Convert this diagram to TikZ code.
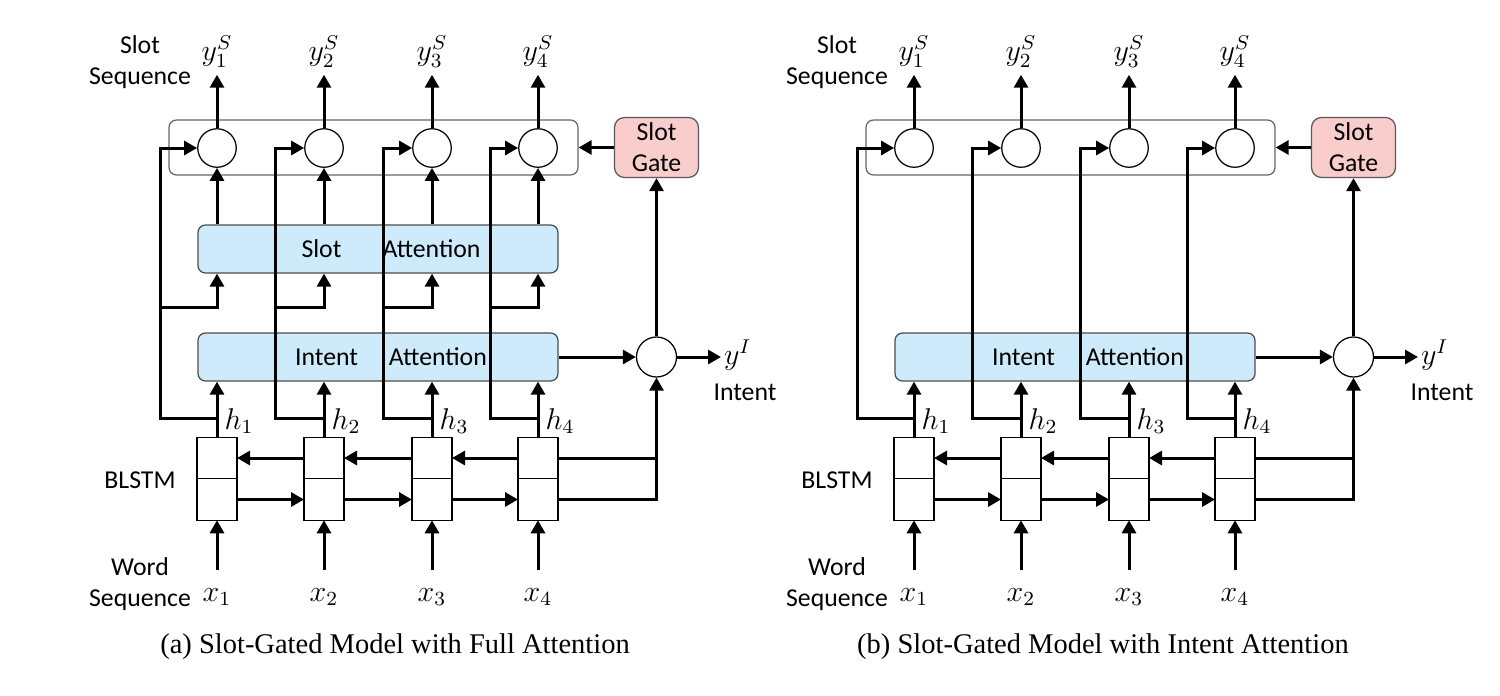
\documentclass[tikz,border=0pt]{standalone}
\usepackage{fontspec}
\setmainfont{Carlito}
\newfontfamily\captionfont{Liberation Serif}
\usetikzlibrary{arrows.meta}
\definecolor{attnblue}{HTML}{CDEBFA}
\definecolor{gatepink}{HTML}{F8CDCB}

\begin{document}
\begin{tikzpicture}[
		x=0.4pt, y=-0.4pt,
		every node/.style={font=\fontsize{10.3}{12.4}\selectfont, inner sep=1pt},
		arr/.style={line width=1.2pt, -{Triangle[length=5.2pt, width=5.6pt]}},
		wire/.style={line width=1.2pt},
		gatecirc/.style={circle, draw, line width=0.5pt, minimum size=15.4pt, inner sep=0pt, fill=white},
		cell/.style={rectangle, draw, line width=0.5pt, minimum width=16pt, minimum height=16.6pt, inner sep=0pt, outer sep=0pt, fill=white},
		attn/.style={rectangle, rounded corners=3pt, draw=black!70, line width=0.5pt, fill=attnblue, minimum width=144pt, minimum height=19.2pt},
		slotrow/.style={rectangle, rounded corners=3pt, draw=black!60, line width=0.5pt, minimum width=163.6pt, minimum height=22pt},
		slotgate/.style={rectangle, rounded corners=4pt, draw=black!65, line width=0.5pt, fill=gatepink, minimum width=33.6pt, minimum height=24pt, align=center},
		lbl/.style={align=center},
		mth/.style={font=\fontsize{12}{14}\selectfont}
	]
  \useasboundingbox (0,0) rectangle (1500,695);
  % slot attention only in (a)
  \node (asa) [attn] at (378, 249) {\hspace*{10.4pt}Slot\hspace{1.6em}Attention};
  \foreach \p/\dx in {a/0, b/697} {
    \node (\p sb) [slotrow] at (\dx+373.5, 147.5) {};
    \node (\p gate) [slotgate] at (\dx+656.5, 147.5) {Slot\\Gate};
    \node (\p ia) [attn] at (\dx+378, 357) {\hspace*{10.4pt}Intent\hspace{1.2em}Attention};
    \node (\p ic) [gatecirc, minimum size=16pt] at (\dx+656.5, 357) {};
    \node (\p yI) [mth, anchor=west] at (\dx+721, 355) {$y^I$};
    \node (\p intent) at (\dx+745, 392) {Intent};
    \node (\p slotseq) [lbl] at (\dx+140, 62) {Slot\\Sequence};
    \node (\p blstm) at (\dx+140, 480) {BLSTM};
    \node (\p wordseq) [lbl] at (\dx+140, 584) {Word\\Sequence};
    \foreach \i/\c/\l in {1/217/160, 2/324/275, 3/432/383, 4/538/490} {
      \node (\p s\i) [gatecirc] at (\dx+\c, 148) {};
      \node (\p y\i) [mth] at (\dx+\c, 52) {$y_{\i}^S$};
      \node (\p u\i) [cell] at (\dx+\c, 458) {};
      \node (\p d\i) [cell] at (\dx+\c, 499.5) {};
      \node (\p h\i) [mth] at (\dx+\c+22, 421) {$h_{\i}$};
      \node (\p x\i) [mth] at (\dx+\c, 597) {$x_{\i}$};
      \coordinate (\p k\i) at (\dx+\c, 418);
      \coordinate (\p l\i) at (\dx+\l, 418);
      \coordinate (\p m\i) at (\dx+\l, 307);
      \draw[arr, shorten >=1.5pt] (\p s\i.north) -- (\p y\i.south);
      \draw[arr] ([yshift=6pt]\p x\i.north) -- (\p d\i.south);
      \draw[arr] (\p u\i.north) -- (\p u\i.north |- \p ia.south);
      \draw[arr] (\p k\i) -- (\p l\i) |- (\p s\i.west);
    }
    \foreach \i/\j in {1/2, 2/3, 3/4} {
      \draw[arr] (\p u\j.west) -- (\p u\i.east);
      \draw[arr] (\p d\i.east) -- (\p d\j.west);
    }
    \draw[wire] (\p u4.east) -- (\p u4.east -| \p ic);
    \draw[arr] (\p d4.east) -| (\p ic.south);
    \draw[arr] (\p ia.east) -- (\p ic.west);
    \draw[arr] (\p ic.east) -- (\p ic.east -| \p yI.west);
    \draw[arr] (\p ic.north) -- (\p gate.south);
    \draw[arr] (\p gate.west) -- (\p sb.east);
  }
  % slot attention links in (a)
  \foreach \i in {1,...,4} {
    \draw[arr] (am\i) -| (asa.south -| as\i);
    \draw[arr] (asa.north -| as\i) -- (as\i.south);
  }
  \node (capa) [font=\captionfont\fontsize{11.4}{13}\selectfont] at (395, 647) {(a) Slot-Gated Model with Full Attention};
  \node (capb) [font=\captionfont\fontsize{11.4}{13}\selectfont] at (1103, 647) {(b) Slot-Gated Model with Intent Attention};
\end{tikzpicture}
\end{document}
